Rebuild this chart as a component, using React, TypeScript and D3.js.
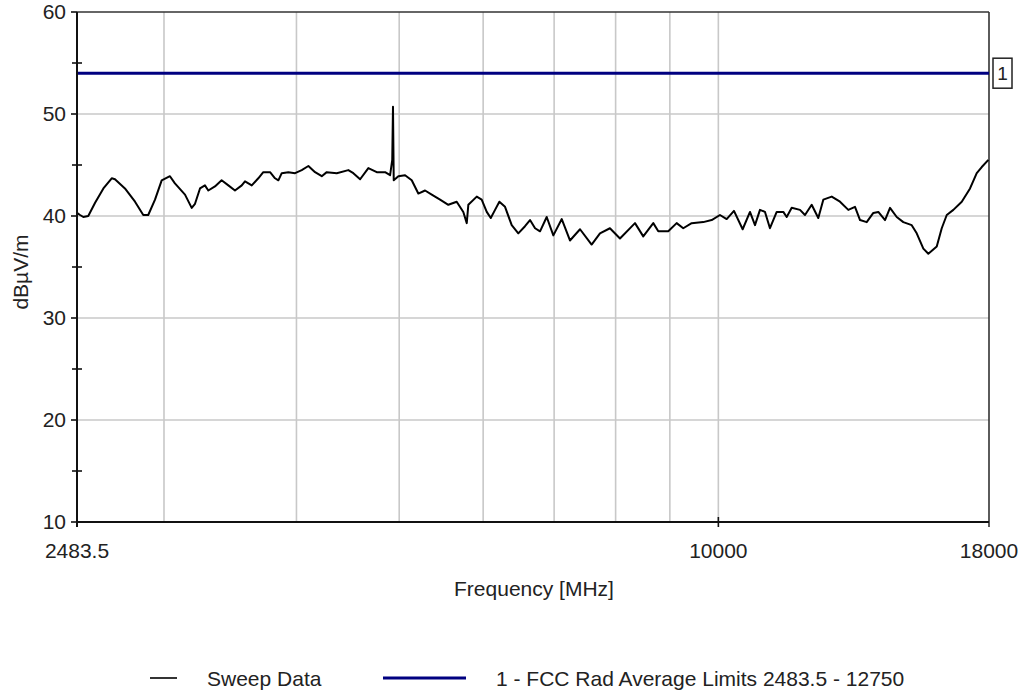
import * as d3 from 'd3'
import { type ReactElement } from 'react'

// sweep trace: [frequency MHz, level dBµV/m]
const sweepData: [number, number][] = [
  [2483.5, 40.3], [2500, 40.1], [2518, 39.9], [2545, 40.0], [2583, 41.3], [2630, 42.7],
  [2678, 43.7], [2697, 43.6], [2756, 42.7], [2817, 41.4], [2868, 40.1], [2899, 40.1],
  [2942, 41.6], [2985, 43.5], [3039, 43.9], [3072, 43.2], [3140, 42.1], [3186, 40.8],
  [3209, 41.2], [3244, 42.7], [3279, 43.0], [3303, 42.5], [3351, 42.9], [3400, 43.5],
  [3450, 43.0], [3500, 42.5], [3552, 43.0], [3577, 43.4], [3630, 43.0], [3682, 43.7],
  [3722, 44.3], [3777, 44.3], [3818, 43.7], [3846, 43.5], [3874, 44.2], [3930, 44.3],
  [3988, 44.2], [4046, 44.5], [4105, 44.9], [4165, 44.3], [4226, 43.9], [4272, 44.3],
  [4366, 44.2], [4477, 44.5], [4526, 44.2], [4593, 43.6], [4676, 44.7], [4762, 44.3],
  [4849, 44.3], [4902, 44.0], [4925, 45.5], [4933, 50.7], [4941, 43.5], [4991, 43.9],
  [5064, 44.0], [5138, 43.5], [5212, 42.2], [5289, 42.5], [5366, 42.1], [5464, 41.6],
  [5563, 41.1], [5665, 41.4], [5747, 40.4], [5790, 39.3], [5810, 41.1], [5917, 41.9],
  [5981, 41.6], [6047, 40.4], [6100, 39.8], [6157, 40.6], [6215, 41.4], [6292, 40.9],
  [6384, 39.1], [6476, 38.3], [6571, 39.0], [6643, 39.6], [6716, 38.8], [6789, 38.5],
  [6888, 39.9], [6988, 38.1], [7117, 39.7], [7245, 37.6], [7405, 38.7], [7594, 37.2],
  [7733, 38.3], [7902, 38.8], [8076, 37.8], [8344, 39.3], [8495, 38.0], [8682, 39.3],
  [8777, 38.5], [8969, 38.5], [9134, 39.3], [9266, 38.8], [9437, 39.3], [9678, 39.4],
  [9856, 39.6], [10035, 40.1], [10182, 39.7], [10345, 40.5], [10542, 38.7], [10711, 40.4],
  [10828, 39.1], [10946, 40.6], [11066, 40.4], [11186, 38.8], [11351, 40.4], [11515, 40.4],
  [11600, 39.9], [11727, 40.8], [11940, 40.6], [12070, 40.1], [12247, 41.1], [12424, 39.8],
  [12560, 41.6], [12791, 41.9], [13024, 41.4], [13261, 40.6], [13455, 40.9], [13603, 39.6],
  [13801, 39.4], [14001, 40.3], [14154, 40.4], [14362, 39.6], [14518, 40.8], [14731, 39.9],
  [14944, 39.4], [15219, 39.1], [15385, 38.3], [15608, 36.8], [15778, 36.3], [16069, 37.0],
  [16244, 38.8], [16422, 40.1], [16659, 40.6], [16966, 41.4], [17274, 42.7], [17527, 44.2],
  [17719, 44.8], [17975, 45.5],
]

const limitLevel = 54
const freqRange: [number, number] = [2483.5, 18000]
const levelRange: [number, number] = [10, 60]

const freqGrid = [3000, 4000, 5000, 6000, 7000, 8000, 9000, 10000]
const freqLabels = [2483.5, 10000, 18000]
const levelMajor = [10, 20, 30, 40, 50, 60]
const levelGrid = [20, 30, 40, 50]
const levelMinor = [15, 25, 35, 45, 55]

const sweepLabel = 'Sweep Data'
const limitLabel = '1 - FCC Rad Average Limits 2483.5 - 12750'
const limitTag = '1'

const width = 1023
const height = 694
const plot = { left: 77, right: 989, top: 12, bottom: 522 }
const font = '"Liberation Sans", Arial, sans-serif'
const fontSize = 21
const textColor = '#222'
const limitColor = '#000080'

export default function App(): ReactElement {
  const x = d3.scaleLog().domain(freqRange).range([plot.left, plot.right])
  const y = d3.scaleLinear().domain(levelRange).range([plot.bottom, plot.top])

  const line = d3
    .line<[number, number]>()
    .x((d) => x(d[0]))
    .y((d) => y(d[1]))

  const limitY = y(limitLevel)

  return (
    <svg
      width={width}
      height={height}
      style={{ position: 'absolute', left: 0, top: 0, background: '#fff' }}
      fontFamily={font}
      fontSize={fontSize}
    >
      {/* grid */}
      {freqGrid.map((f) => (
        <line key={`gx${f}`} x1={x(f)} x2={x(f)} y1={plot.top} y2={plot.bottom} stroke="#c8c8c8" strokeWidth={1.6} />
      ))}
      {levelGrid.map((v) => (
        <line key={`gy${v}`} x1={plot.left} x2={plot.right} y1={y(v)} y2={y(v)} stroke="#c8c8c8" strokeWidth={1.6} />
      ))}

      {/* frame top/right */}
      <line x1={plot.left} x2={plot.right} y1={plot.top} y2={plot.top} stroke="#333" strokeWidth={1.6} />
      <line x1={plot.right} x2={plot.right} y1={plot.top} y2={plot.bottom + 5} stroke="#333" strokeWidth={1.6} />

      {/* limit line + tag */}
      <line x1={x(freqRange[0])} x2={x(freqRange[1])} y1={limitY} y2={limitY} stroke={limitColor} strokeWidth={3} />
      <rect x={plot.right + 4} y={limitY - 15} width={19} height={30} fill="#fff" stroke="#222" strokeWidth={1.5} />
      <text x={plot.right + 13.5} y={limitY + 7} textAnchor="middle" fontSize={19} fill={textColor}>
        {limitTag}
      </text>

      {/* sweep trace */}
      <path d={line(sweepData) ?? ''} fill="none" stroke="#000" strokeWidth={2} strokeLinejoin="round" />

      {/* axes */}
      <line x1={plot.left} x2={plot.left} y1={plot.top} y2={plot.bottom + 5} stroke="#111" strokeWidth={2} />
      <line x1={plot.left} x2={plot.right} y1={plot.bottom} y2={plot.bottom} stroke="#111" strokeWidth={2} />
      {levelMajor.map((v) => (
        <g key={`ty${v}`}>
          <line x1={plot.left - 6} x2={plot.left} y1={y(v)} y2={y(v)} stroke="#111" strokeWidth={1.6} />
          <text x={66} y={y(v)} dy="0.35em" textAnchor="end" fill={textColor}>
            {v}
          </text>
        </g>
      ))}
      {levelMinor.map((v) => (
        <line key={`my${v}`} x1={plot.left - 5} x2={plot.left + 5} y1={y(v)} y2={y(v)} stroke="#111" strokeWidth={1.6} />
      ))}
      <line x1={x(10000)} x2={x(10000)} y1={plot.bottom - 5} y2={plot.bottom + 5} stroke="#111" strokeWidth={1.6} />
      {freqLabels.map((f) => (
        <text key={`tx${f}`} x={x(f)} y={558} textAnchor="middle" fill={textColor}>
          {f}
        </text>
      ))}

      {/* axis titles */}
      <text x={534} y={596} textAnchor="middle" fill={textColor}>
        Frequency [MHz]
      </text>
      <text transform="translate(28,272) rotate(-90)" textAnchor="middle" fill={textColor}>
        dBµV/m
      </text>

      {/* legend */}
      <line x1={150} x2={177} y1={678} y2={678} stroke="#000" strokeWidth={1.6} />
      <text x={207} y={686} fill={textColor}>
        {sweepLabel}
      </text>
      <line x1={383} x2={466} y1={678} y2={678} stroke={limitColor} strokeWidth={3} />
      <text x={496} y={686} fill={textColor}>
        {limitLabel}
      </text>
    </svg>
  )
}
